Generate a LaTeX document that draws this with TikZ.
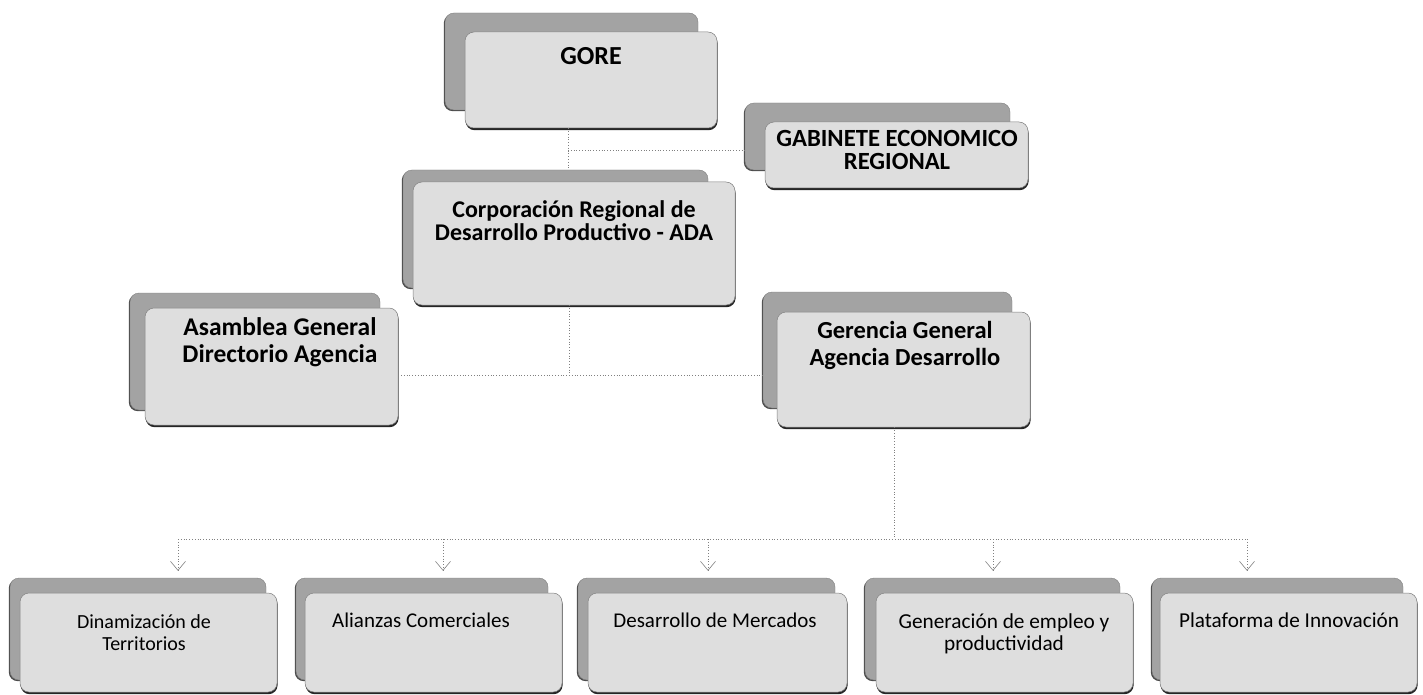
\documentclass[tikz,border=0pt]{standalone}
\usepackage{fontspec}
\setmainfont{Carlito}
\usetikzlibrary{arrows.meta,shadows}
\newcommand\tl[1]{\begin{tabular}[t]{@{}c@{}}#1\end{tabular}}
\newcommand\bx[6]{\node[#1, minimum width={(#5-#3)*1pt}, minimum height={(#6-#4)*1pt}, inner sep=0pt] (#2) at ({(#3+#5)/2},{(#4+#6)/2}) {};}
\begin{document}
\begin{tikzpicture}[x=1pt,y=-1pt,
  back/.style={draw=black!50, fill=black!36, rounded corners=9pt, line width=0.4pt,
    drop shadow={shadow xshift=-1.2pt, shadow yshift=-1.2pt, fill=black!70, opacity=1}},
  front/.style={draw=black!50, fill=black!13, rounded corners=9pt, line width=0.5pt,
    drop shadow={shadow xshift=0.6pt, shadow yshift=-2.2pt, fill=black!85, opacity=1}},
  txt/.style={anchor=base, inner sep=0pt},
  conn/.style={draw=black!50, dotted, line width=0.8pt},
  arr/.style={conn, -{Straight Barb[length=9pt,width=15pt,line width=0.6pt]}, shorten >=7pt},
]
\useasboundingbox (0,0) rectangle (1423,695);
% top level boxes
\bx{back}{goreB}{445}{13}{698}{110}
\bx{front}{goreF}{465}{32}{717}{128}
\bx{back}{gabB}{745}{103}{1010}{170}
\bx{front}{gabF}{765}{122}{1028}{188}
\bx{back}{corpB}{403}{170}{708}{288}
\bx{front}{corpF}{413}{182}{735}{305}
\bx{back}{asamB}{130}{293}{380}{410}
\bx{front}{asamF}{145}{308}{398}{425}
\bx{back}{gerB}{763}{292}{1012}{408}
\bx{front}{gerF}{777}{312}{1030}{427}
% bottom boxes
\bx{back}{dinB}{10}{578}{266}{680}
\bx{front}{dinF}{20}{593}{277}{692}
\bx{back}{aliB}{296}{578}{548}{680}
\bx{front}{aliF}{305}{593}{562}{692}
\bx{back}{desB}{578}{578}{835}{680}
\bx{front}{desF}{588}{593}{847}{692}
\bx{back}{genB}{865}{578}{1120}{680}
\bx{front}{genF}{876}{593}{1133}{692}
\bx{back}{plaB}{1152}{578}{1403}{680}
\bx{front}{plaF}{1160}{593}{1417}{692}
% texts
\node[txt, font=\fontsize{26}{26}\selectfont\bfseries] (goreT) at (591,65) {GORE};
\node[txt, font=\fontsize{24.7}{21}\selectfont\bfseries] (gabT) at (897,147) {\tl{GABINETE ECONOMICO\\REGIONAL}};
\node[txt, font=\fontsize{24}{23}\selectfont\bfseries] (corpT) at (574,217) {\tl{Corporación Regional de\\Desarrollo Productivo - ADA}};
\node[txt, font=\fontsize{25.5}{27}\selectfont\bfseries] (asamT) at (280,335) {\tl{Asamblea General\\Directorio Agencia}};
\node[txt, font=\fontsize{24.5}{27}\selectfont\bfseries] (gerT) at (905,338) {\tl{Gerencia General\\Agencia Desarrollo}};
\node[txt, font=\fontsize{20}{22}\selectfont] (dinT) at (144,628) {\tl{Dinamización de\\Territorios}};
\node[txt, font=\fontsize{21}{22}\selectfont] (aliT) at (421,627) {Alianzas Comerciales};
\node[txt, font=\fontsize{21}{22}\selectfont] (desT) at (715,627) {Desarrollo de Mercados};
\node[txt, font=\fontsize{21.3}{22}\selectfont] (genT) at (1004,628) {\tl{Generación de empleo y\\productividad}};
\node[txt, font=\fontsize{21.2}{22}\selectfont] (plaT) at (1289,627) {Plataforma de Innovación};
% connectors
\coordinate (j1) at (568,150);
\coordinate (j2) at (569,375);
\coordinate (j3) at (894,539);
\coordinate (a1) at (178,539);
\coordinate (a2) at (443,539);
\coordinate (a3) at (708,539);
\coordinate (a4) at (993,539);
\coordinate (a5) at (1247,539);
\draw[conn] (goreF.south -| j1) -- (corpB.north -| j1);
\draw[conn] (j1) -- (j1 -| gabB.west);
\draw[conn] (corpF.south -| j2) -- (j2);
\draw[conn] (asamF.east |- j2) -- (gerB.west |- j2);
\draw[conn] (gerF.south -| j3) -- (j3);
\draw[conn] (a1) -- (a5);
\draw[arr] (a1) -- (a1 |- dinB.north);
\draw[arr] (a2) -- (a2 |- aliB.north);
\draw[arr] (a3) -- (a3 |- desB.north);
\draw[arr] (a4) -- (a4 |- genB.north);
\draw[arr] (a5) -- (a5 |- plaB.north);
\end{tikzpicture}
\end{document}
